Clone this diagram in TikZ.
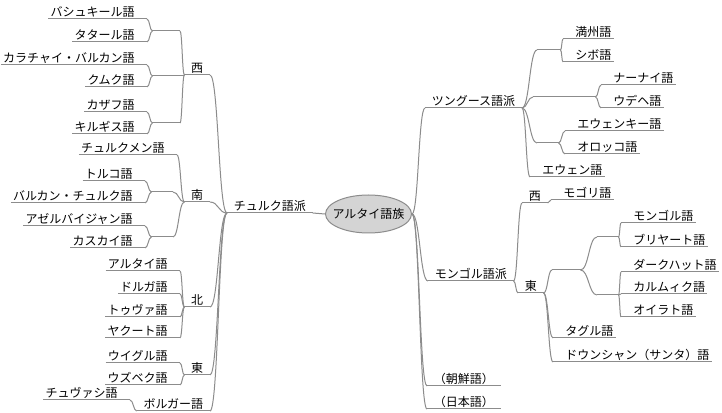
\documentclass[tikz,border=0pt]{standalone}
\usepackage{fontspec}
\setmainfont{Noto Sans CJK JP}
\usetikzlibrary{calc,shapes.geometric}
\definecolor{linegray}{RGB}{140,140,140}
\definecolor{rootgray}{RGB}{212,212,212}

\begin{document}
\begin{tikzpicture}[x=0.75pt, y=-0.75pt,
    every node/.style={font=\fontsize{9pt}{11pt}\selectfont, text height=7.5pt, text depth=1pt, inner ysep=1pt},
    mid/.style={inner xsep=4.9pt},
    lleaf/.style={anchor=south east, inner xsep=1.5pt, execute at end node={\hspace*{7.5pt}}},
    rleaf/.style={anchor=south west, inner xsep=1.5pt, execute at begin node={\hspace*{7.5pt}}},
    knot/.style={minimum width=#1, inner sep=0pt, text height=0pt, text depth=0pt, minimum height=0pt},
    link/.style={draw=linegray, line width=0.75pt},
    swing/.style={to path={let \p1=(\tikztostart), \p2=(\tikztotarget) in
        .. controls ({(\x1+\x2)/2},\y1) and ({(\x1+\x2)/2},\y2) .. (\tikztotarget)}}]
    \fill[white, use as bounding box] (0,0) rectangle (722,413);

    % root
    \node [ellipse, draw=linegray, fill=rootgray, line width=0.75pt, inner xsep=-8pt,
        minimum width=64.5pt, minimum height=28.5pt] (altaic) at (368.5,214) {アルタイ語族};

    % Turkic
    \node [anchor=south west, mid] (turkic) at (227,213) {チュルク語派};
    \node [anchor=south east, mid] (tw) at (210,75) {西};
    \node [anchor=south east, mid] (ts) at (210,202) {南};
    \node [anchor=south east, mid] (tn) at (210,307) {北};
    \node [anchor=south east, mid] (te) at (210,375) {東};
    \node [anchor=south east, mid] (bulgar) at (210,411) {ボルガー語};

    \node [knot=20.25pt, anchor=south east] (kb) at (180,31) {};
    \node [knot=22.5pt, anchor=south east] (kc) at (183,76) {};
    \node [knot=20.25pt, anchor=south east] (kn) at (180,123) {};
    \node [knot=15.75pt, anchor=south east] (s1) at (173,192) {};
    \node [knot=15.75pt, anchor=south east] (s2) at (173,237) {};

    \node [lleaf] (bashkir) at (147,19) {バシュキール語};
    \node [lleaf] (tatar) at (147,42) {タタール語};
    \node [lleaf] (karachay) at (147,65) {カラチャイ・バルカン語};
    \node [lleaf] (kumyk) at (147,87) {クムク語};
    \node [lleaf] (kazakh) at (147,112) {カザフ語};
    \node [lleaf] (kyrgyz) at (147,134) {キルギス語};
    \node [lleaf] (turkmen) at (177,155) {チュルクメン語};
    \node [lleaf] (turkish) at (145,181) {トルコ語};
    \node [lleaf] (balkan) at (145,203) {バルカン・チュルク語};
    \node [lleaf] (azeri) at (145,226) {アゼルバイジャン語};
    \node [lleaf] (qashqai) at (145,248) {カスカイ語};
    \node [lleaf] (altai) at (180,271) {アルタイ語};
    \node [lleaf] (dolgan) at (180,294) {ドルガ語};
    \node [lleaf] (tuvan) at (180,317) {トゥヴァ語};
    \node [lleaf] (yakut) at (180,338) {ヤクート語};
    \node [lleaf] (uyghur) at (180,363) {ウイグル語};
    \node [lleaf] (uzbek) at (180,385) {ウズベク語};
    \node [lleaf] (chuvash) at (130,400) {チュヴァシ語};

    % Tungusic
    \node [anchor=south west, mid] (tungusic) at (425,108) {ツングース語派};
    \node [knot=17.25pt, anchor=south west] (t1) at (537,50) {};
    \node [knot=46.5pt, anchor=south west] (t2) at (533,97) {};
    \node [knot=15.75pt, anchor=south west] (t3) at (537,143) {};
    \node [rleaf] (manchu) at (563,39) {満州語};
    \node [rleaf] (xibe) at (563,62) {シボ語};
    \node [rleaf] (nanai) at (601,85) {ナーナイ語};
    \node [rleaf] (udehe) at (601,108) {ウデヘ語};
    \node [rleaf] (evenki) at (565,131) {エウェンキー語};
    \node [rleaf] (orok) at (565,154) {オロッコ語};
    \node [rleaf] (even) at (530,177) {エウェン語};

    % Mongolic
    \node [anchor=south west, mid] (mongolic) at (428,281) {モンゴル語派};
    \node [anchor=south west, mid] (mw) at (522,203) {西};
    \node [anchor=south west, mid] (me) at (518,293) {東};
    \node [rleaf] (moghol) at (551,200) {モゴリ語};
    \node [knot=21pt, anchor=south west] (e1) at (552,270) {};
    \node [knot=15.75pt, anchor=south west] (e1a) at (597,237) {};
    \node [knot=15.75pt, anchor=south west] (e1b) at (597,295) {};
    \node [rleaf] (khalkha) at (621,223) {モンゴル語};
    \node [rleaf] (buryat) at (621,247) {ブリヤート語};
    \node [rleaf] (darkhad) at (621,272) {ダークハット語};
    \node [rleaf] (kalmyk) at (621,294) {カルムィク語};
    \node [rleaf] (oirat) at (621,317) {オイラト語};
    \node [rleaf] (tagul) at (553,338) {タグル語};
    \node [rleaf] (dongxiang) at (553,362) {ドウンシャン（サンタ）語};

    \node [anchor=south west, mid] (korean) at (427,386) {（朝鮮語）};
    \node [anchor=south west, mid] (japanese) at (427,409) {（日本語）};

    % underlines
    \foreach \n in {turkic, tw, ts, tn, te, bulgar, kb, kc, kn, s1, s2,
        bashkir, tatar, karachay, kumyk, kazakh, kyrgyz, turkmen, turkish, balkan, azeri, qashqai,
        altai, dolgan, tuvan, yakut, uyghur, uzbek, chuvash,
        tungusic, t1, t2, t3, manchu, xibe, nanai, udehe, evenki, orok, even,
        mongolic, mw, me, moghol, e1, e1a, e1b, khalkha, buryat, darkhad, kalmyk, oirat, tagul, dongxiang,
        korean, japanese}
        \draw[link] (\n.south west) -- (\n.south east);

    % left side
    \path[link] (altaic.west) edge[swing] (turkic.south east);
    \path[link] (turkic.south west) edge[swing] (tw.south east) edge[swing] (ts.south east)
        edge[swing] (tn.south east) edge[swing] (te.south east) edge[swing] (bulgar.south east);
    \path[link] (tw.south west) edge[swing] (kb.south east) edge[swing] (kc.south east) edge[swing] (kn.south east);
    \path[link] (kb.south west) edge[swing] (bashkir.south east) edge[swing] (tatar.south east);
    \path[link] (kc.south west) edge[swing] (karachay.south east) edge[swing] (kumyk.south east);
    \path[link] (kn.south west) edge[swing] (kazakh.south east) edge[swing] (kyrgyz.south east);
    \path[link] (ts.south west) edge[swing] (turkmen.south east) edge[swing] (s1.south east) edge[swing] (s2.south east);
    \path[link] (s1.south west) edge[swing] (turkish.south east) edge[swing] (balkan.south east);
    \path[link] (s2.south west) edge[swing] (azeri.south east) edge[swing] (qashqai.south east);
    \path[link] (tn.south west) edge[swing] (altai.south east) edge[swing] (dolgan.south east)
        edge[swing] (tuvan.south east) edge[swing] (yakut.south east);
    \path[link] (te.south west) edge[swing] (uyghur.south east) edge[swing] (uzbek.south east);
    \path[link] (bulgar.south west) edge[swing] (chuvash.south east);

    % right side
    \path[link] (altaic.east) edge[swing] (tungusic.south west) edge[swing] (mongolic.south west)
        edge[swing] (korean.south west) edge[swing] (japanese.south west);
    \path[link] (tungusic.south east) edge[swing] (t1.south west) edge[swing] (t2.south west)
        edge[swing] (t3.south west) edge[swing] (even.south west);
    \path[link] (t1.south east) edge[swing] (manchu.south west) edge[swing] (xibe.south west);
    \path[link] (t2.south east) edge[swing] (nanai.south west) edge[swing] (udehe.south west);
    \path[link] (t3.south east) edge[swing] (evenki.south west) edge[swing] (orok.south west);
    \path[link] (mongolic.south east) edge[swing] (mw.south west) edge[swing] (me.south west);
    \path[link] (mw.south east) edge[swing] (moghol.south west);
    \path[link] (me.south east) edge[swing] (e1.south west) edge[swing] (tagul.south west) edge[swing] (dongxiang.south west);
    \path[link] (e1.south east) edge[swing] (e1a.south west) edge[swing] (e1b.south west);
    \path[link] (e1a.south east) edge[swing] (khalkha.south west) edge[swing] (buryat.south west);
    \path[link] (e1b.south east) edge[swing] (darkhad.south west) edge[swing] (kalmyk.south west) edge[swing] (oirat.south west);
\end{tikzpicture}
\end{document}
